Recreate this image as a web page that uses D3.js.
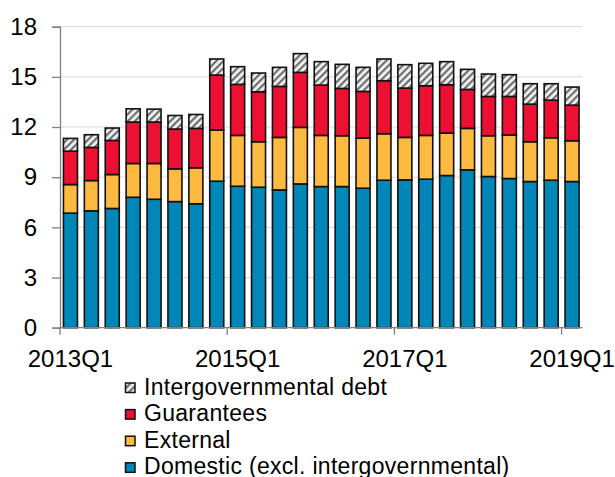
<!DOCTYPE html>
<html>
<head>
<meta charset="utf-8">
<script src="https://cdn.jsdelivr.net/npm/d3@7"></script>
<style>
  html, body { margin: 0; padding: 0; background: #fff; }
  svg { display: block; font-family: "Liberation Sans", Arial, sans-serif; }
</style>
</head>
<body>
<svg id="chart" width="615" height="477"></svg>
<script>
// ---- data ----
const quarters = ["2013Q1","2013Q2","2013Q3","2013Q4","2014Q1","2014Q2","2014Q3","2014Q4",
  "2015Q1","2015Q2","2015Q3","2015Q4","2016Q1","2016Q2","2016Q3","2016Q4",
  "2017Q1","2017Q2","2017Q3","2017Q4","2018Q1","2018Q2","2018Q3","2018Q4","2019Q1"];
const domestic   = [6.85,6.99,7.13,7.80,7.68,7.54,7.41,8.76,8.46,8.40,8.24,8.60,8.44,8.44,8.34,8.82,8.84,8.88,9.10,9.44,9.04,8.92,8.74,8.82,8.74];
const external   = [1.71,1.81,2.03,2.02,2.14,1.96,2.15,3.06,3.04,2.72,3.14,3.38,3.06,3.04,3.00,2.78,2.54,2.62,2.54,2.48,2.44,2.60,2.38,2.54,2.44];
const guarantees = [2.00,1.98,2.04,2.48,2.48,2.38,2.36,3.29,3.05,2.99,3.05,3.29,3.01,2.83,2.79,3.17,2.95,2.97,2.89,2.33,2.35,2.31,2.25,2.25,2.13];
const intergov   = [0.76,0.76,0.74,0.79,0.77,0.81,0.83,0.96,1.06,1.12,1.14,1.12,1.40,1.44,1.44,1.30,1.40,1.34,1.38,1.20,1.34,1.30,1.22,0.98,1.08];
const seriesKeys = ["domestic","external","guarantees","intergov"];
const seriesNames = {
  intergov: "Intergovernmental debt",
  guarantees: "Guarantees",
  external: "External",
  domestic: "Domestic (excl. intergovernmental)"
};
const yTicks = [0,3,6,9,12,15,18];
const xLabels = ["2013Q1","2015Q1","2017Q1","2019Q1"];

// ---- setup ----
const colors = { domestic: "#0087B8", external: "#FDB940", guarantees: "#EC1133", intergov: "url(#hatch)" };
const svg = d3.select("#chart");
const rows = quarters.map((q, i) => ({ q, domestic: domestic[i], external: external[i], guarantees: guarantees[i], intergov: intergov[i] }));

const x = d3.scaleBand().domain(quarters).range([60, 582.5]).paddingInner(0.33).paddingOuter(0.165);
const y = d3.scaleLinear().domain([0, 18]).range([327.7, 26.7]);

const defs = svg.append("defs");
const pat = defs.append("pattern").attr("id", "hatch").attr("patternUnits", "userSpaceOnUse")
  .attr("width", 5).attr("height", 5).attr("patternTransform", "rotate(45)");
pat.append("rect").attr("width", 5).attr("height", 5).attr("fill", "#f2f2f2");
pat.append("rect").attr("x", 0).attr("width", 2.2).attr("height", 5).attr("fill", "#6e6e6e");

// gridlines
svg.append("g").selectAll("line").data(yTicks.filter(d => d > 0)).join("line")
  .attr("x1", 60).attr("x2", 582.5).attr("y1", d => y(d)).attr("y2", d => y(d))
  .attr("stroke", "#d9d9d9").attr("stroke-width", 1);

// bars
const stacked = d3.stack().keys(seriesKeys)(rows);
svg.append("g").selectAll("g").data(stacked).join("g")
  .attr("fill", d => colors[d.key])
  .selectAll("rect").data(d => d).join("rect")
  .attr("x", d => x(d.data.q)).attr("width", x.bandwidth())
  .attr("y", d => y(d[1])).attr("height", d => y(d[0]) - y(d[1]))
  .attr("stroke", "#111").attr("stroke-width", 1.6);

// y axis
const yAxis = svg.append("g").attr("transform", "translate(60,0)")
  .call(d3.axisLeft(y).tickValues(yTicks).tickSize(8).tickPadding(15).tickFormat(d3.format("d")));
yAxis.select(".domain").attr("stroke", "#808080").attr("stroke-width", 1.3);
yAxis.selectAll(".tick line").attr("stroke", "#808080").attr("stroke-width", 1.3);
yAxis.selectAll("text").attr("font-size", 24).attr("fill", "#000").attr("font-family", "Liberation Sans, Arial, sans-serif");

// x axis
const xg = svg.append("g");
xg.append("line").attr("x1", 60).attr("x2", 582.5).attr("y1", y(0)).attr("y2", y(0))
  .attr("stroke", "#808080").attr("stroke-width", 1.3);
const step = x.step();
xg.selectAll("line.t").data(xLabels).join("line").attr("class", "t")
  .attr("x1", d => x(d) - (step - x.bandwidth()) / 2)
  .attr("x2", d => x(d) - (step - x.bandwidth()) / 2)
  .attr("y1", y(0)).attr("y2", y(0) + 7)
  .attr("stroke", "#808080").attr("stroke-width", 1.3);
xg.selectAll("text").data(xLabels).join("text")
  .attr("x", d => x(d) + x.bandwidth() / 2).attr("y", 366.5)
  .attr("text-anchor", "middle").attr("font-size", 24).attr("fill", "#000")
  .text(d => d);

// legend
const legendOrder = ["intergov","guarantees","external","domestic"];
const lg = svg.append("g").selectAll("g").data(legendOrder).join("g")
  .attr("transform", (d, i) => `translate(125,${394.5 + i * 26.6})`);
lg.append("rect").attr("x", 0.5).attr("y", -11.5).attr("width", 9.5).attr("height", 9.5)
  .attr("fill", d => colors[d]).attr("stroke", "#111").attr("stroke-width", 1.5);
lg.append("text").attr("x", 19).attr("y", 0).attr("font-size", 23).attr("letter-spacing", 0.3).attr("fill", "#000")
  .text(d => seriesNames[d]);
</script>
</body>
</html>
